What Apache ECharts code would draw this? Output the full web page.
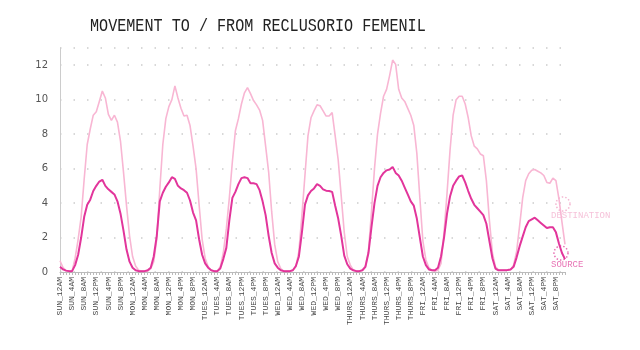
<!DOCTYPE html>
<html>
<head>
<meta charset="utf-8">
<title>Movement to / from Reclusorio Femenil</title>
<script src="https://cdn.jsdelivr.net/npm/echarts@6/dist/echarts.min.js"></script>
<style>
  html, body { margin: 0; padding: 0; background: #fff; }
  #chart { width: 640px; height: 350px; }
</style>
</head>
<body>
<div id="chart"></div>
<script>
// days and hours that make up the category axis (one point per hour)
const days = ['SUN', 'MON', 'TUES', 'WED', 'THURS', 'FRI', 'SAT'];
const hours = ['12AM', '1AM', '2AM', '3AM', '4AM', '5AM', '6AM', '7AM', '8AM', '9AM', '10AM', '11AM',
               '12PM', '1PM', '2PM', '3PM', '4PM', '5PM', '6PM', '7PM', '8PM', '9PM', '10PM', '11PM'];

// average movements to the place (destination)
const destination = [
    0.65, 0.25, 0.08, 0.05, 0.05, 0.8, 1.9, 3.2, 5.4, 7.4, 8.3, 9.1,
    9.3, 9.9, 10.5, 10.1, 9.15, 8.8, 9.1, 8.7, 7.6, 5.8, 3.85, 2.1,
    0.9, 0.35, 0.1, 0.05, 0.05, 0.05, 0.2, 0.6, 1.9, 4.8, 7.4, 8.9,
    9.6, 10.0, 10.8, 10.1, 9.5, 9.05, 9.1, 8.5, 7.3, 6.0, 3.9, 1.9,
    0.8, 0.3, 0.1, 0.05, 0.05, 0.3, 1.1, 2.5, 4.3, 6.4, 8.2, 8.9,
    9.75, 10.4, 10.7, 10.35, 9.95, 9.7, 9.4, 8.8, 7.3, 5.8, 3.5, 1.6,
    0.6, 0.2, 0.05, 0.05, 0.05, 0.1, 0.3, 1.2, 3.3, 5.6, 7.9, 8.95,
    9.35, 9.7, 9.65, 9.35, 9.05, 9.05, 9.25, 7.9, 6.5, 4.4, 2.3, 0.9,
    0.4, 0.1, 0.05, 0.05, 0.1, 0.35, 1.2, 3.5, 6.0, 8.0, 9.2, 10.2,
    10.6, 11.4, 12.3, 12.05, 10.6, 10.1, 9.9, 9.5, 9.1, 8.5, 6.9, 4.3,
    1.8, 0.7, 0.25, 0.1, 0.05, 0.1, 0.5, 2.3, 4.6, 7.1, 9.1, 10.0,
    10.2, 10.2, 9.75, 8.95, 7.9, 7.3, 7.15, 6.85, 6.75, 5.3, 3.0, 1.1,
    0.3, 0.12, 0.1, 0.1, 0.1, 0.15, 0.4, 1.2, 2.7, 4.3, 5.3, 5.7,
    5.9, 5.95, 5.85, 5.75, 5.6, 5.2, 5.15, 5.45, 5.3, 4.25, 2.9, 1.6
];

// average movements from the place (source)
const source = [
    0.3, 0.15, 0.08, 0.05, 0.05, 0.4, 1.0, 2.0, 3.2, 3.9, 4.2, 4.7,
    5.0, 5.25, 5.35, 5.0, 4.8, 4.65, 4.5, 4.1, 3.4, 2.4, 1.3, 0.6,
    0.25, 0.1, 0.05, 0.05, 0.05, 0.1, 0.25, 0.9, 2.1, 4.1, 4.6, 4.95,
    5.2, 5.5, 5.4, 5.0, 4.85, 4.75, 4.6, 4.15, 3.45, 3.0, 1.9, 1.0,
    0.5, 0.25, 0.1, 0.05, 0.05, 0.2, 0.75, 1.4, 3.0, 4.3, 4.65, 5.1,
    5.45, 5.5, 5.45, 5.15, 5.15, 5.1, 4.75, 4.1, 3.3, 2.1, 1.1, 0.5,
    0.25, 0.1, 0.05, 0.05, 0.05, 0.1, 0.35, 0.9, 2.3, 3.9, 4.45, 4.7,
    4.85, 5.1, 5.0, 4.8, 4.72, 4.7, 4.65, 3.85, 3.1, 2.1, 0.95, 0.45,
    0.2, 0.1, 0.05, 0.05, 0.1, 0.3, 1.1, 2.6, 4.0, 5.0, 5.5, 5.75,
    5.9, 5.95, 6.1, 5.75, 5.6, 5.3, 4.9, 4.5, 4.1, 3.85, 3.1, 2.0,
    0.9, 0.4, 0.15, 0.1, 0.1, 0.25, 0.9, 2.0, 3.4, 4.4, 5.0, 5.3,
    5.55, 5.6, 5.2, 4.7, 4.25, 3.9, 3.7, 3.5, 3.3, 2.8, 1.8, 0.8,
    0.2, 0.1, 0.1, 0.1, 0.12, 0.15, 0.3, 0.85, 1.5, 2.05, 2.6, 2.95,
    3.05, 3.15, 3.0, 2.85, 2.7, 2.55, 2.6, 2.6, 2.3, 1.65, 1.1, 0.75
];

const categories = [];
days.forEach(d => hours.forEach(h => categories.push(d + '_' + h)));

const DARK = '#e2359b';
const LIGHT = '#f8b6d3';
const MONO = '"Liberation Mono", "DejaVu Sans Mono", monospace';

const chart = echarts.init(document.getElementById('chart'));

const option = {
    animation: false,
    grid: { left: 60, right: 75, top: 48, bottom: 78 },
    xAxis: {
        type: 'category',
        data: categories,
        boundaryGap: false,
        axisLine: { lineStyle: { color: '#bbb' } },
        axisTick: { interval: 0, length: 3, lineStyle: { color: '#bbb' } },
        axisLabel: {
            interval: 3,
            rotate: 90,
            fontFamily: MONO,
            fontSize: 8,
            color: '#444',
            margin: 5
        },
        splitLine: { show: false }
    },
    yAxis: {
        type: 'value',
        min: 0,
        max: 13,
        interval: 2,
        axisLine: { show: true, lineStyle: { color: '#ccc' } },
        axisTick: { show: false },
        axisLabel: {
            fontFamily: 'DejaVu Sans, sans-serif',
            fontSize: 10,
            color: '#555',
            margin: 12,
            showMaxLabel: false
        },
        splitLine: {
            show: true,
            lineStyle: { color: '#ccc', width: 1.5, type: [1.5, 12] }
        }
    },
    series: [
        {
            name: 'DESTINATION',
            type: 'line',
            data: destination,
            symbol: 'none',
            lineStyle: { color: LIGHT, width: 1.6 },
            itemStyle: { color: LIGHT }
        },
        {
            name: 'SOURCE',
            type: 'line',
            data: source,
            symbol: 'none',
            lineStyle: { color: DARK, width: 2 },
            itemStyle: { color: DARK }
        }
    ],
    graphic: [
        // title: narrow monospace, squeezed a little to match the original
        {
            type: 'text',
            x: 90,
            y: 17,
            scaleX: 0.84,
            style: {
                text: 'MOVEMENT TO / FROM RECLUSORIO FEMENIL',
                fill: '#222',
                font: '18px ' + MONO
            }
        },
        // hand-made legend: dotted ring above each label
        {
            type: 'circle',
            shape: { cx: 563, cy: 204, r: 7 },
            style: { fill: 'none', stroke: '#f4b5d0', lineWidth: 1.5, lineDash: [1.5, 2] }
        },
        {
            type: 'text',
            left: 551,
            top: 211,
            style: { text: 'DESTINATION', fill: '#f6c3da', font: '9px ' + MONO }
        },
        {
            type: 'circle',
            shape: { cx: 561, cy: 253, r: 7 },
            style: { fill: 'none', stroke: '#e66fb3', lineWidth: 1.5, lineDash: [1.5, 2] }
        },
        {
            type: 'text',
            left: 551,
            top: 260,
            style: { text: 'SOURCE', fill: '#e873b5', font: '9px ' + MONO }
        }
    ]
};

chart.setOption(option);
window.addEventListener('resize', function () {
    chart.resize();
});
</script>
</body>
</html>
